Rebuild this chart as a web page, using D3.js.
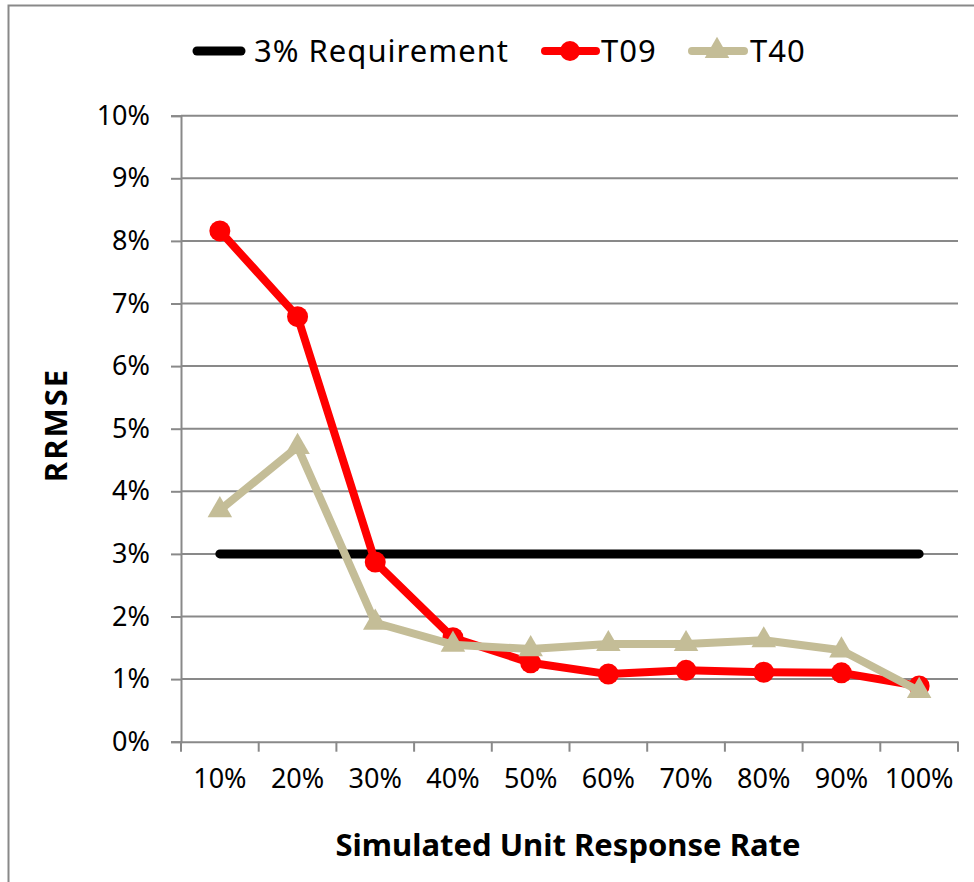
<!DOCTYPE html>
<html><head><meta charset="utf-8">
<script src="https://cdn.jsdelivr.net/npm/d3@7"></script>
<style>body{margin:0;background:#fff}svg{display:block}text{font-family:"Noto Sans",sans-serif;fill:#000}</style>
</head><body><svg id="c" width="974" height="882"></svg>
<script>
const categories = ["10%","20%","30%","40%","50%","60%","70%","80%","90%","100%"];
const requirement = [3,3,3,3,3,3,3,3,3,3];
const t09 = [8.16,6.79,2.87,1.66,1.26,1.08,1.14,1.11,1.10,0.89];
const t40 = [3.70,4.71,1.90,1.55,1.48,1.56,1.56,1.62,1.46,0.81];
const yTicks = [0,1,2,3,4,5,6,7,8,9,10];

const svg = d3.select("#c");
const grid = "#898989";
svg.append("rect").attr("x",8.5).attr("y",5.5).attr("width",1200).attr("height",1200)
  .attr("fill","none").attr("stroke",grid).attr("stroke-width",2);

const x = d3.scaleBand().domain(categories).range([181,958]).padding(0);
const y = d3.scaleLinear().domain([0,10]).range([741.7,115.7]);
const cx = d => x(d)+x.bandwidth()/2;

// gridlines
svg.append("g").selectAll("line").data(yTicks.filter(t=>t>0)).join("line")
  .attr("x1",181).attr("x2",958).attr("y1",d=>y(d)).attr("y2",d=>y(d))
  .attr("stroke",grid).attr("stroke-width",2);

// y axis
const ya = svg.append("g").attr("transform","translate(181,0)")
  .call(d3.axisLeft(y).tickValues(yTicks).tickSize(10).tickPadding(21).tickFormat(d=>d+"%"));
ya.select(".domain").attr("stroke",grid).attr("stroke-width",2);
ya.selectAll(".tick line").attr("stroke",grid).attr("stroke-width",2);
ya.selectAll(".tick text").attr("font-size",27).attr("font-family","Noto Sans").attr("fill","#000");

// x axis
const xa = svg.append("g").attr("transform",`translate(0,${y(0)})`)
  .call(d3.axisBottom(x).tickSize(0).tickPadding(27));
xa.select(".domain").attr("stroke",grid).attr("stroke-width",2);
xa.selectAll(".tick text").attr("font-size",27).attr("font-family","Noto Sans").attr("fill","#000");
svg.append("g").selectAll("line").data(categories.concat(["end"])).join("line")
  .attr("x1",(d,i)=>i<categories.length?x(d):x.range()[1]).attr("x2",(d,i)=>i<categories.length?x(d):x.range()[1])
  .attr("y1",y(0)).attr("y2",y(0)+10).attr("stroke",grid).attr("stroke-width",2);

// axis titles
svg.append("text").attr("x",568).attr("y",856).attr("text-anchor","middle")
  .attr("font-size",31).attr("font-weight","bold").text("Simulated Unit Response Rate");
svg.append("text").attr("transform","translate(67,425) rotate(-90)").attr("text-anchor","middle")
  .attr("font-size",31).attr("font-weight","bold").attr("letter-spacing",2).text("RRMSE");

const line = d3.line().x((d,i)=>cx(categories[i])).y(d=>y(d));
// requirement
svg.append("path").attr("d",line(requirement)).attr("fill","none").attr("stroke","#000")
  .attr("stroke-width",9).attr("stroke-linecap","round");
// T09
svg.append("path").attr("d",line(t09)).attr("fill","none").attr("stroke","#ff0000")
  .attr("stroke-width",8).attr("stroke-linejoin","round");
svg.append("g").selectAll("circle").data(t09).join("circle")
  .attr("cx",(d,i)=>cx(categories[i])).attr("cy",d=>y(d)).attr("r",10.5).attr("fill","#ff0000");
// T40
const tan = "#c4bd97";
const tri = d3.symbol().type(d3.symbolTriangle).size(260);
svg.append("path").attr("d",line(t40)).attr("fill","none").attr("stroke",tan)
  .attr("stroke-width",8).attr("stroke-linejoin","round");
svg.append("g").selectAll("path").data(t40).join("path")
  .attr("d",tri).attr("transform",(d,i)=>`translate(${cx(categories[i])},${y(d)})`).attr("fill",tan);

// legend
const ly = 51;
const lg = svg.append("g");
lg.append("line").attr("x1",197).attr("x2",241).attr("y1",ly).attr("y2",ly).attr("stroke","#000").attr("stroke-width",9).attr("stroke-linecap","round");
lg.append("text").attr("x",254).attr("y",ly+11).attr("font-size",31).attr("letter-spacing",1).text("3% Requirement");
lg.append("line").attr("x1",545).attr("x2",596).attr("y1",ly).attr("y2",ly).attr("stroke","#ff0000").attr("stroke-width",8).attr("stroke-linecap","round");
lg.append("circle").attr("cx",570).attr("cy",ly).attr("r",10).attr("fill","#ff0000");
lg.append("text").attr("x",601).attr("y",ly+11).attr("font-size",31).attr("letter-spacing",1).text("T09");
lg.append("line").attr("x1",692).attr("x2",744).attr("y1",ly).attr("y2",ly).attr("stroke",tan).attr("stroke-width",8).attr("stroke-linecap","round");
lg.append("path").attr("d",tri).attr("transform",`translate(717,${ly})`).attr("fill",tan);
lg.append("text").attr("x",750).attr("y",ly+11).attr("font-size",31).attr("letter-spacing",1).text("T40");
</script></body></html>
